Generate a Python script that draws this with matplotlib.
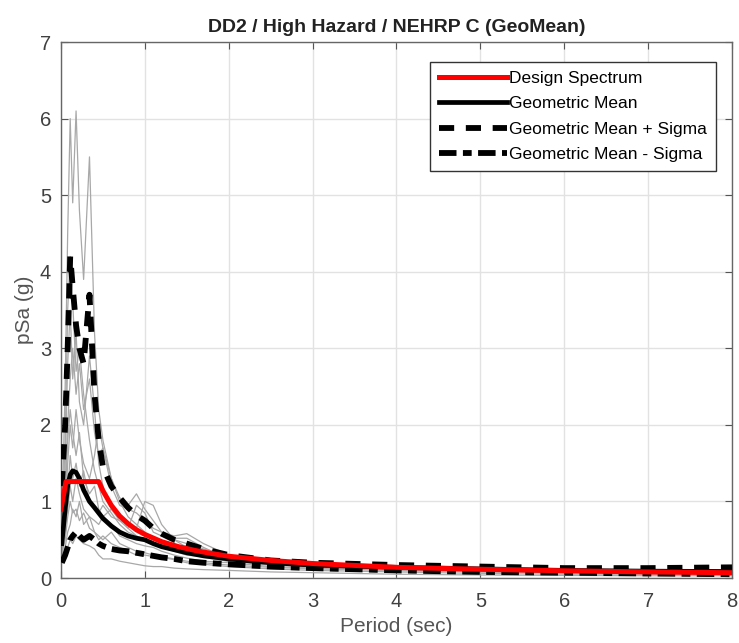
import matplotlib.pyplot as plt

plt.rcParams['font.family'] = ['Liberation Sans', 'DejaVu Sans']

# periods shared by the records and the mean curves (sec)
periods = [0.01, 0.05, 0.08, 0.11, 0.14, 0.18, 0.22, 0.27, 0.34, 0.4,
           0.45, 0.5, 0.6, 0.7, 0.8, 0.9, 1.0, 1.1, 1.2, 1.35,
           1.5, 1.7, 2.0, 2.5, 3.0, 4.0, 5.0, 6.0, 7.0, 8.0]

# individual ground motion records, pSa (g)
records = [
    [0.7, 2.5, 4.5, 6.0, 4.9, 6.1, 4.8, 3.9, 5.5, 3.2, 2.2, 1.8, 1.3, 1.0, 0.8,
     0.7, 0.6, 0.5, 0.45, 0.38, 0.32, 0.27, 0.22, 0.17, 0.14, 0.1, 0.08, 0.07, 0.06, 0.05],
    [0.5, 1.2, 2.0, 2.6, 3.0, 2.4, 2.8, 2.2, 2.6, 1.9, 1.6, 1.7, 1.3, 1.05, 0.95,
     1.1, 0.9, 0.75, 0.6, 0.5, 0.45, 0.38, 0.3, 0.22, 0.18, 0.14, 0.12, 0.1, 0.09, 0.08],
    [0.4, 0.9, 1.5, 2.0, 1.7, 2.2, 1.8, 1.5, 1.3, 1.6, 2.0, 1.7, 1.2, 0.95, 0.9,
     0.85, 0.75, 0.65, 0.6, 0.55, 0.58, 0.45, 0.3, 0.2, 0.16, 0.12, 0.1, 0.08, 0.07, 0.06],
    [0.3, 0.7, 1.1, 1.6, 1.3, 1.5, 1.2, 1.4, 1.0, 0.9, 0.85, 0.95, 0.8, 0.75, 0.65,
     0.95, 0.85, 0.6, 0.55, 0.52, 0.52, 0.4, 0.25, 0.2, 0.16, 0.13, 0.11, 0.09, 0.08, 0.07],
    [0.3, 0.6, 0.9, 1.2, 1.0, 1.3, 1.1, 0.9, 0.8, 0.75, 0.7, 0.8, 0.9, 0.75, 0.7,
     0.65, 1.0, 0.95, 0.7, 0.5, 0.4, 0.3, 0.25, 0.2, 0.17, 0.14, 0.12, 0.1, 0.1, 0.1],
    [0.2, 0.4, 0.6, 0.7, 0.9, 0.8, 1.0, 0.7, 0.8, 0.6, 0.55, 0.5, 0.6, 0.45, 0.4,
     0.35, 0.33, 0.3, 0.28, 0.25, 0.22, 0.2, 0.17, 0.14, 0.12, 0.1, 0.08, 0.07, 0.06, 0.05],
    [0.2, 0.3, 0.4, 0.5, 0.45, 0.55, 0.5, 0.45, 0.42, 0.38, 0.3, 0.25, 0.25, 0.22, 0.2,
     0.18, 0.16, 0.15, 0.15, 0.13, 0.12, 0.11, 0.1, 0.08, 0.07, 0.05, 0.04, 0.035, 0.03, 0.03],
    [0.5, 1.5, 2.8, 3.5, 2.6, 3.2, 2.3, 2.0, 2.9, 2.2, 1.5, 1.2, 0.9, 0.8, 0.65,
     0.55, 0.5, 0.45, 0.4, 0.4, 0.33, 0.28, 0.22, 0.18, 0.15, 0.12, 0.1, 0.09, 0.08, 0.07],
    [0.4, 1.0, 1.8, 2.2, 1.9, 1.6, 1.9, 1.3, 1.1, 1.2, 0.9, 0.8, 0.7, 0.55, 0.5,
     0.45, 0.42, 0.4, 0.35, 0.3, 0.26, 0.22, 0.2, 0.15, 0.13, 0.1, 0.09, 0.08, 0.07, 0.06],
    [0.6, 1.8, 3.5, 4.2, 3.6, 2.7, 3.0, 2.4, 1.8, 1.4, 1.2, 1.0, 0.85, 0.7, 0.6,
     0.55, 0.5, 0.45, 0.4, 0.35, 0.3, 0.28, 0.25, 0.2, 0.16, 0.13, 0.11, 0.1, 0.09, 0.09],
    [0.3, 0.5, 0.8, 1.0, 0.85, 0.9, 0.75, 0.85, 0.65, 0.6, 0.5, 0.55, 0.45, 0.4, 0.35,
     0.3, 0.3, 0.28, 0.27, 0.24, 0.2, 0.18, 0.15, 0.12, 0.1, 0.08, 0.06, 0.05, 0.05, 0.04],
]

geo_mean = [0.45, 0.9, 1.2, 1.35, 1.4, 1.38, 1.3, 1.15, 1.0, 0.92, 0.85, 0.78, 0.68, 0.6, 0.55,
            0.52, 0.5, 0.45, 0.41, 0.37, 0.33, 0.29, 0.25, 0.2, 0.17, 0.14, 0.12, 0.1, 0.09, 0.085]
geo_plus = [1.2, 2.0, 3.0, 4.2, 3.8, 3.3, 3.0, 2.8, 3.7, 2.4, 1.8, 1.45, 1.2, 1.05, 0.92,
            0.82, 0.75, 0.65, 0.58, 0.5, 0.45, 0.38, 0.3, 0.23, 0.2, 0.17, 0.15, 0.13, 0.13, 0.14]
geo_minus = [0.2, 0.3, 0.4, 0.5, 0.55, 0.6, 0.55, 0.5, 0.55, 0.5, 0.45, 0.42, 0.38, 0.36, 0.35,
             0.33, 0.31, 0.29, 0.27, 0.25, 0.22, 0.2, 0.18, 0.15, 0.13, 0.1, 0.08, 0.07, 0.06, 0.05]

# design response spectrum
design_T = [0.0, 0.06, 0.45, 0.5, 0.6, 0.7, 0.8, 0.9, 1.0, 1.2, 1.4, 1.6, 1.8, 2.0,
            2.5, 3.0, 3.5, 4.0, 5.0, 6.0, 7.0, 8.0]
design_sa = [0.9, 1.26, 1.26, 1.14, 0.95, 0.81, 0.71, 0.63, 0.57, 0.475, 0.41, 0.36, 0.32, 0.285,
             0.23, 0.19, 0.165, 0.14, 0.115, 0.095, 0.08, 0.07]

fig = plt.figure(figsize=(7.39, 6.43), dpi=100)
ax = fig.add_axes([0.0825, 0.101, 0.9080, 0.8336])

for rec in records:
    ax.plot(periods, rec, color='#a8a8a8', lw=0.9, zorder=2)

ax.plot(design_T, design_sa, color='#ff0000', lw=3.6, label='Design Spectrum', zorder=5)
ax.plot(periods, geo_mean, color='k', lw=3.4, label='Geometric Mean', zorder=4)
ax.plot(periods, geo_plus, color='k', lw=4.2, dashes=(2.6, 2.0),
        label='Geometric Mean + Sigma', zorder=4)
ax.plot(periods, geo_minus, color='k', lw=4.2, dashes=(3.0, 1.1, 1.5, 1.1),
        label='Geometric Mean - Sigma', zorder=4)

ax.set_xlim(0, 8)
ax.set_ylim(0, 7)
ax.set_xticks(range(0, 9))
ax.set_yticks(range(0, 8))
ax.grid(True, color='#e2e2e2', lw=1.0, zorder=0)
ax.set_axisbelow(True)
ax.tick_params(direction='in', top=True, right=True, length=5, pad=7,
               colors='#555555', labelcolor='#404040', labelsize=14.5)
ax.tick_params(axis='x', pad=10)
for s in ax.spines.values():
    s.set_color('#666666')
    s.set_linewidth(1.0)

ax.set_xlabel('Period (sec)', fontsize=15, color='#555555', labelpad=4)
ax.set_ylabel('pSa (g)', fontsize=15, color='#555555', labelpad=4)
ax.set_title('DD2 / High Hazard / NEHRP C (GeoMean)', fontsize=14,
             fontweight='bold', color='#222222', pad=7)

leg = ax.legend(loc='upper right', bbox_to_anchor=(0.976, 0.963), fontsize=12.5,
                handlelength=3.9, handletextpad=0.15, borderpad=0.5, labelspacing=0.6,
                borderaxespad=0, fancybox=False, framealpha=1, edgecolor='#333333')
leg.get_frame().set_linewidth(1.0)

fig.savefig('out.png', dpi=100)
